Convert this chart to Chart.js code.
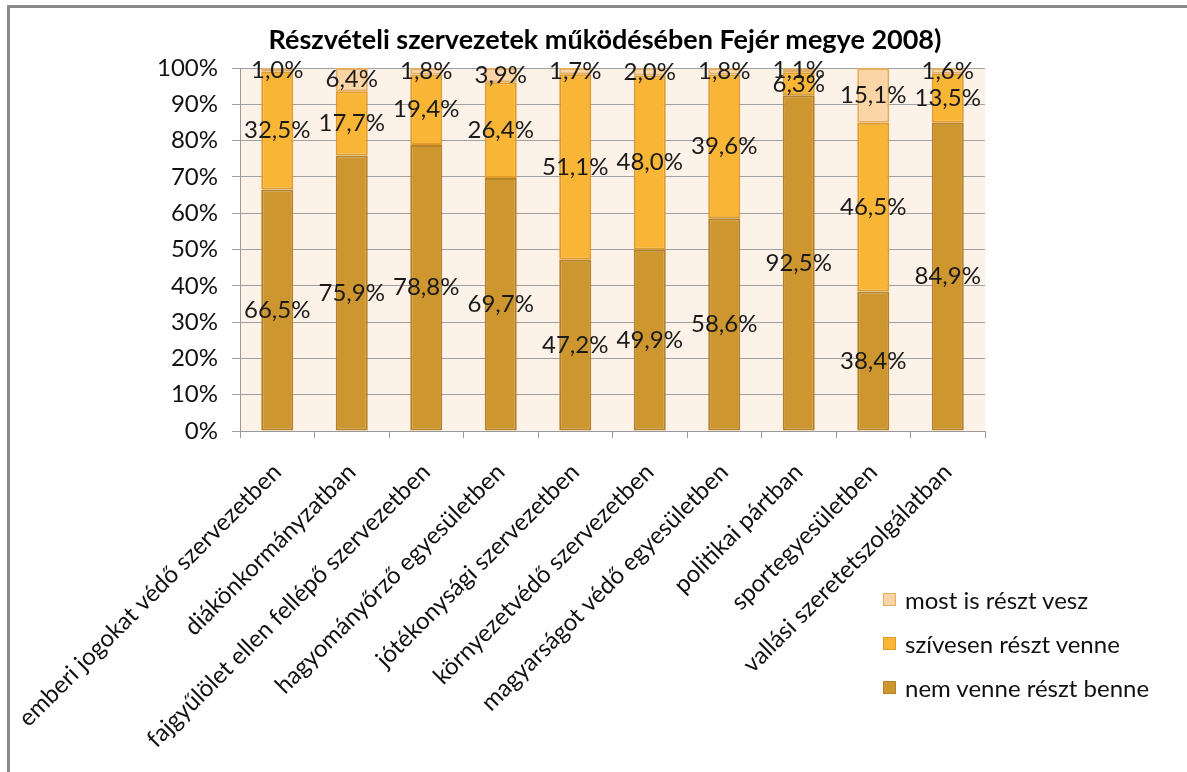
<!DOCTYPE html>
<html>
<head>
<meta charset="utf-8">
<script src="https://cdn.jsdelivr.net/npm/chart.js@4/dist/chart.umd.min.js"></script>
<style>
    body { margin: 0; background: #fff; }
    #wrap { position: relative; width: 1187px; height: 772px; overflow: hidden; font-family: Lato, sans-serif; }
    #frame { position: absolute; left: 7px; top: 5px; width: 1300px; height: 900px;
             border-top: 3px solid #8a8a8a; border-left: 3px solid #8a8a8a; }
    #title { position: absolute; left: 0; width: 1210px; top: 22px; text-align: center;
             font-weight: bold; font-size: 27px; color: #000; }
    #legend { position: absolute; left: 883px; top: 577px; }
    .leg-item { display: flex; align-items: center; height: 44px; font-size: 24px; color: #111; }
    .leg-box { width: 13px; height: 13px; margin-right: 9px; box-sizing: border-box; border: 1px solid; }
    canvas { position: absolute; left: 0; top: 0; }
</style>
</head>
<body>
<div id="wrap">
    <div id="frame"></div>
    <canvas id="chart" width="1187" height="772"></canvas>
    <div id="title">Részvételi szervezetek működésében Fejér megye 2008)</div>
    <div id="legend"></div>
</div>
<script>
// Categories and values (percent)
const categories = [
    'emberi jogokat védő szervezetben',
    'diákönkormányzatban',
    'fajgyűlölet ellen fellépő szervezetben',
    'hagyományőrző egyesületben',
    'jótékonysági szervezetben',
    'környezetvédő szervezetben',
    'magyarságot védő egyesületben',
    'politikai pártban',
    'sportegyesületben',
    'vallási szeretetszolgálatban'
];
const nemVenne = [66.5, 75.9, 78.8, 69.7, 47.2, 49.9, 58.6, 92.5, 38.4, 84.9];
const szivesen = [32.5, 17.7, 19.4, 26.4, 51.1, 48.0, 39.6, 6.3, 46.5, 13.5];
const mostIs = [1.0, 6.4, 1.8, 3.9, 1.7, 2.0, 1.8, 1.1, 15.1, 1.6];
const seriesNames = ['nem venne részt benne', 'szívesen részt venne', 'most is részt vesz'];
const yTickLabels = ['0%', '10%', '20%', '30%', '40%', '50%', '60%', '70%', '80%', '90%', '100%'];

const fills = ['#CD962F', '#F9B535', '#FBD5A6'];
const borders = ['#B5822A', '#E09B2A', '#E2AE66'];

// Plot area background
const plotBg = {
    id: 'plotBg',
    beforeDraw(chart) {
        const { ctx, chartArea: a } = chart;
        ctx.save();
        ctx.fillStyle = '#FDF2E8';
        ctx.fillRect(a.left, a.top, a.right - a.left, a.bottom - a.top);
        ctx.restore();
    }
};

// Value labels centered in each segment
const valueLabels = {
    id: 'valueLabels',
    afterDatasetsDraw(chart) {
        const ctx = chart.ctx;
        ctx.save();
        ctx.font = '24px Lato, sans-serif';
        ctx.fillStyle = '#1a1a1a';
        ctx.textAlign = 'center';
        ctx.textBaseline = 'middle';
        chart.data.datasets.forEach((ds, i) => {
            const meta = chart.getDatasetMeta(i);
            meta.data.forEach((bar, j) => {
                const p = bar.getCenterPoint();
                const txt = ds.data[j].toFixed(1).replace('.', ',') + '%';
                ctx.fillText(txt, p.x, p.y);
            });
        });
        ctx.restore();
    }
};

const datasets = [nemVenne, szivesen, mostIs].map((vals, i) => ({
    label: seriesNames[i],
    data: vals,
    backgroundColor: fills[i],
    borderColor: borders[i],
    borderWidth: 2,
    borderSkipped: false,
    categoryPercentage: 1,
    barPercentage: 0.43
}));

const chart = new Chart(document.getElementById('chart'), {
    type: 'bar',
    data: { labels: categories, datasets: datasets },
    options: {
        responsive: false,
        animation: false,
        layout: { padding: { top: 68, right: 202, left: 0, bottom: 0 } },
        plugins: { legend: { display: false }, title: { display: false }, tooltip: { enabled: false } },
        scales: {
            x: {
                stacked: true,
                grid: { drawOnChartArea: false, drawTicks: true, tickLength: 7, color: '#9a9a9a' },
                border: { color: '#9a9a9a', width: 1 },
                ticks: {
                    autoSkip: false, minRotation: 45, maxRotation: 45, padding: 20,
                    color: '#111', font: { family: 'Lato', size: 24 }
                },
                afterFit(scale) {
                    // long rotated labels must not push the plot area to the right
                    scale.height = 341;
                    scale.paddingLeft = 0;
                    scale.paddingRight = 0;
                }
            },
            y: {
                stacked: true,
                min: 0, max: 100,
                grid: { color: '#a0a0a0', tickLength: 8 },
                border: { color: '#9a9a9a', width: 1 },
                ticks: {
                    stepSize: 10, padding: 14, color: '#111', font: { family: 'Lato', size: 24 },
                    callback: (v) => yTickLabels[Math.round(v / 10)]
                },
                afterFit(scale) { scale.width = 240; }
            }
        }
    },
    plugins: [plotBg, valueLabels]
});

// Legend (reverse order, as in the original)
const legend = document.getElementById('legend');
[2, 1, 0].forEach(i => {
    const item = document.createElement('div');
    item.className = 'leg-item';
    item.innerHTML = '<span class="leg-box" style="background:' + fills[i] + ';border-color:' + borders[i] + '"></span>' + seriesNames[i];
    legend.appendChild(item);
});
</script>
</body>
</html>
